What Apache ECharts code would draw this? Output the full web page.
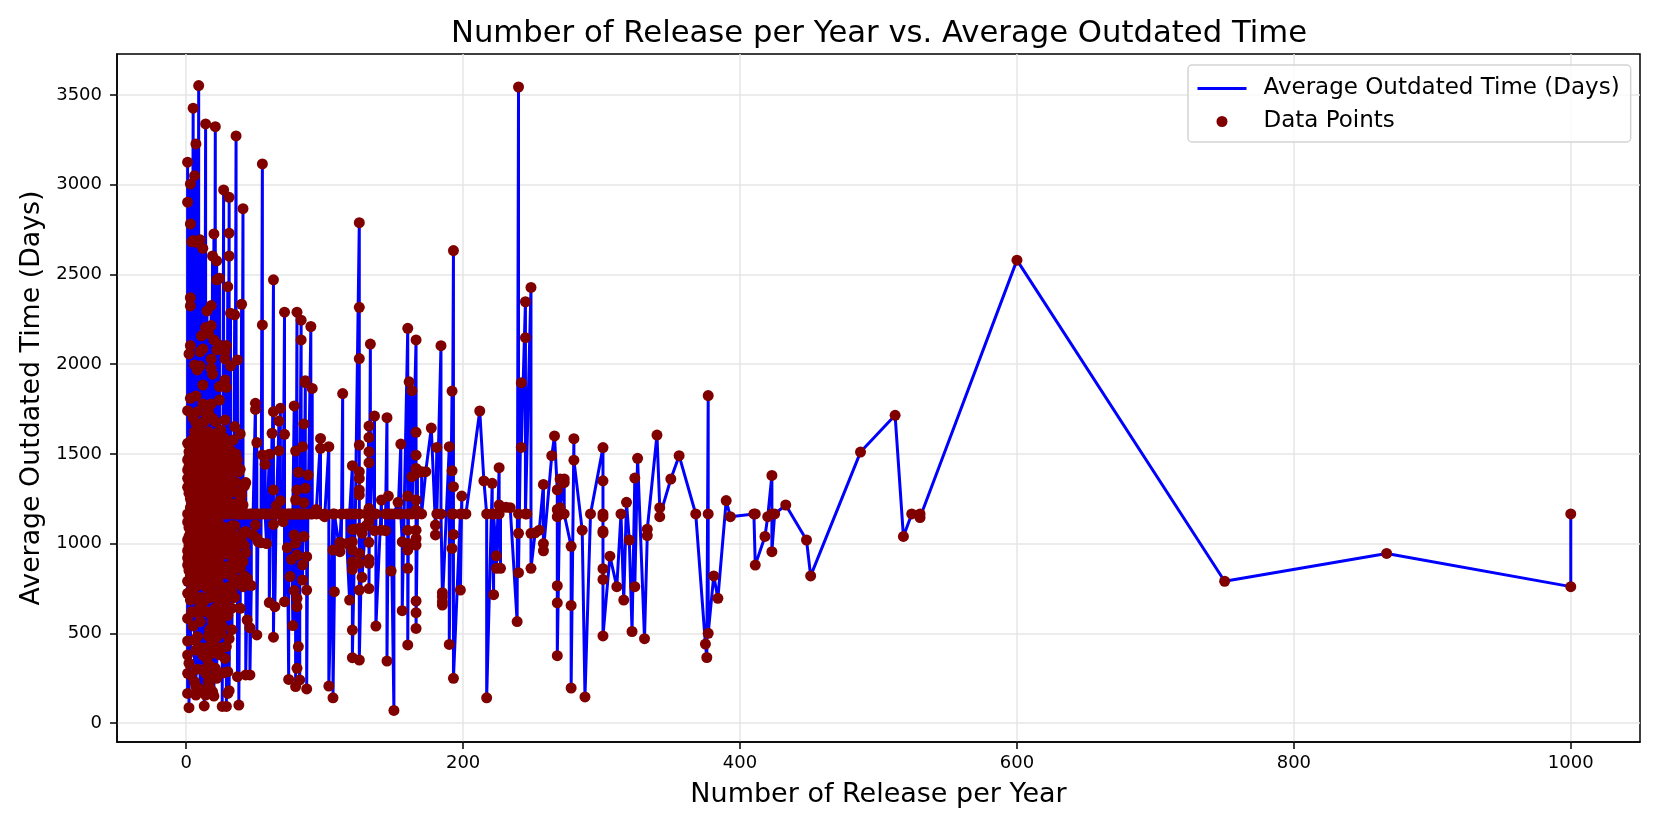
<!DOCTYPE html>
<html><head><meta charset="utf-8">
<style>html,body{margin:0;padding:0;background:#fff}#c{width:1661px;height:830px}</style>
<script src="https://cdn.jsdelivr.net/npm/echarts@6/dist/echarts.min.js"></script>
</head><body><div id="c"></div>
<script>
const chartTitle = "Number of Release per Year vs. Average Outdated Time";
const xAxisTitle = "Number of Release per Year";
const yAxisTitle = "Average Outdated Time (Days)";
const lineName = "Average Outdated Time (Days)";
const pointName = "Data Points";
const xTicks = [0,200,400,600,800,1000];
const yTicks = [0,500,1000,1500,2000,2500,3000,3500];
// Releases per year, and the outdated-time readings seen at each of those counts
const releaseCounts = [1,2,3,4,5,6,7,8,9,10,11,12,13,14,15,16,17,18,19,20,21,22,23,24,25,26,27,28,29,30,31,32,33,34,35,36,37,38,39,40,41,42,43,44,46,47,48,50,51,52,54,55,57,58,60,62,63,64,65,67,68,70,71,73,74,75,76,77,78,79,80,81,82,83,84,85,86,87,88,90,91,94,97,100,103,106,107,111,112,113,116,118,120,122,125,127,130,132,133,136,137,141,144,145,146,148,150,153,155,156,160,161,163,166,167,170,173,177,180,181,184,185,190,192,193,198,199,202,212,215,217,221,222,224,226,227,231,234,239,240,242,245,246,249,252,255,258,264,266,268,270,273,278,280,286,288,292,301,306,311,314,316,318,320,322,324,326,331,333,340,342,350,356,368,375,376,377,381,384,390,393,410,411,418,420,423,425,433,448,451,487,512,518,524,530,600,750,867,1000];
const outdatedByCount = [
[3126,2903,1741,1559,1466,1410,1364,1314,1165,1120,1020,960,920,880,790,723,583,457,379,277,165],
[2057,1513,1480,1430,1350,1280,1165,1090,1040,990,940,900,850,790,333,85],
[3005,2782,2371,2325,2104,1810,1447,1400,1340,1250,1200,1165,1130,1060,1000,950,870,820,686,268],
[2682,1578,1490,1390,1300,1230,1165,1100,1030,960,910,860,800,740,620],
[3427,2690,1700,1520,1420,1330,1260,1165,1080,1000,930,870,780,540],
[3051,1996,1624,1450,1370,1280,1190,1120,1040,960,890,820,710,460,230],
[3228,2680,1823,1674,1500,1400,1300,1165,1080,990,920,850,760,407,203,156],
[1968,1735,1560,1460,1350,1230,1130,1050,970,900,830,690,481,300],
[3553,1640,1470,1340,1220,1165,1100,1010,930,860,610],
[2693,2070,1990,1520,1420,1310,1210,1120,1040,950,880,800,648,565,190],
[2158,1600,1480,1390,1250,1165,1060,980,900,840,700,420],
[2646,2085,1884,1778,1530,1410,1330,1240,1140,1050,960,880,780,379,180],
[1680,1450,1360,1200,1080,1000,910,850,680,300,95],
[3339,2204,1570,1470,1300,1165,1030,950,870,760,277,156],
[2297,1720,1500,1400,1280,1110,1000,900,810,620,360],
[2172,1735,1624,1481,1350,1240,1165,1060,970,880,700,485,323,231],
[1590,1440,1310,1190,1090,980,860,740,520,430,320,200],
[2327,2215,2028,1977,1778,1530,1420,1290,1165,1040,930,830,700,600,426,388,250],
[2603,1944,1698,1500,1380,1250,1100,990,880,790,565,175],
[2726,2135,1600,1450,1330,1210,1165,1050,950,850,714,600,520,440,150],
[3324,1680,1520,1390,1260,1120,1020,920,810,640,305],
[2576,2470,2080,1570,1433,1300,1165,1060,960,860,720,480,400,249],
[1620,1470,1350,1240,1120,1000,900,780,600],
[2479,2107,1875,1800,1500,1380,1260,1165,1040,930,820,680,560,380],
[1633,1382,1290,1180,1070,970,880,760,500],
[1540,1410,1300,1165,1050,950,860,740,650,540,420,92],
[2971,1590,1460,1340,1210,1090,980,870,593,280],
[2070,2029,1912,1689,1500,1370,1240,1165,1030,853,658,360],
[2104,1871,1560,1430,1300,1180,1060,950,850,426,92],
[2432,1500,1390,1271,1165,1050,940,830,700,600,286,165],
[2930,2730,2603,1433,1300,1200,1090,980,870,760,640,470,180],
[2284,1990,1520,1390,1165,1002,880,760],
[1480,1345,1220,1100,990,844,740,640,520],
[1578,1460,1290,1165,1040,930,810,700],
[2275,1652,1430,1215,1100,970,870,700],
[3272,1500,1340,1165,1040,900,780],
[2024,1466,1165,1000,880,258],
[1400,1280,1165,1030,900,100],
[1611,1414,1243,1165,1002,862,639],
[2334,1271,1165,1030,930,800],
[2867,1215,1165,1060,900,760],
[1320,1165,990,820],
[1340,1165,1067,950,268],
[806,1165,574],
[1165,531,268],
[766,1165],
[1165,1050],
[1782,1748,1165,1104],
[1563,1165,1029,491],
[1165,1010],
[1165,1005],
[3116,2219,1494,1165],
[1442,1165],
[1165,1000],
[1498,1165,671],
[1615,1165],
[2470,1735,1299,1165,1107,478],
[1165,648],
[1210,1165],
[1683,1518,1165],
[1754,1239,1165],
[1165,1122],
[2290,1609,1165,676],
[977,1165],
[243,1165],
[816,1165],
[912,1165],
[543,1165],
[1767,1165,1048,738],
[1516,1243,1165,1002,203],
[2290,1299,1165,936,695,648,305],
[1397,1165,426],
[240,1165],
[2245,2135,1165],
[1540,1165,881,797],
[1667,1228,1165,1039],
[1908,1897,1308,1165],
[927,741,190],
[1382,1165],
[2210,1165],
[1865,1165],
[1165,1190],
[1586,1531,1165],
[1165,1150],
[1540,206],
[1165,964,140],
[732,1165],
[955,1007],
[1165,1000],
[1836,1165],
[1165,1000],
[685,1165],
[1434,1165,1079,1010,964,899,856,518,364],
[1165,1080],
[2789,2317,2031,1549,1401,1363,1299,1271,1165,1085,945,890,741,351],
[1057,812],
[1165,1100],
[1655,1592,1512,1451,1196,1122,1007,912,890,749],
[2112,1165],
[1711,1165,1072],
[1165,540],
[1243,1075],
[1072,1165],
[1702,1165,345],
[1265,1165],
[847,1165],
[70,1165],
[1230,1165],
[1555,1165],
[1010,626],
[2200,1265,1165,1075,1001,964,862,435],
[1902,1165],
[1852,1373,1165],
[2135,1620,1493,1419,1391,1243,1187,1165,1075,1029,992,680,615,527],
[1165,1400],
[1400,1165],
[1401],
[1644],
[1103,1048],
[1536,1165],
[2103,1165],
[726,704,676,657],
[1540,438],
[1850,1406,1165,973],
[2633,1317,1165,1051,249],
[1165,741],
[1265,1165],
[1165],
[1739],
[1349],
[1165,140],
[1336,1165],
[715,1165],
[932,862],
[1423,1215,1165],
[862,1200],
[1202],
[1200],
[565],
[3545,1165,1057,838],
[1897,1536],
[2348,2148,1165],
[1165],
[2428,1057,862],
[1060],
[1075],
[1330,1000,960],
[1490],
[1600],
[1300,1190,1150,765,670,375],
[1360,1200],
[1360,1340,1165],
[985,655,195],
[1585,1465],
[1075],
[145],
[1165],
[1535,1350,1165,1150,1070,1060,860,800,485],
[930],
[760],
[1165],
[685],
[1230],
[1020],
[510],
[1365,760],
[1475],
[470],
[1045,1080],
[1605],
[1200,1150],
[1360],
[1490],
[1165],
[440],
[365],
[1825,1165,500],
[820],
[695],
[1240],
[1150],
[1165],
[1165,880],
[1040],
[1150],
[1380,1165,955],
[1165],
[1215],
[1020],
[820],
[1510],
[1715],
[1040],
[1165],
[1165,1145],
[2580],
[790],
[945],
[760,1165]
];
const points = [];
releaseCounts.forEach((x,i)=>{ (outdatedByCount[i]||[]).forEach(y=>points.push([x,y])); });

const chart = echarts.init(document.getElementById('c'),null,{renderer:'canvas'});
const F = "DejaVu Sans";
const gridLine = {show:true,lineStyle:{color:'#e6e6e6',width:1.5}};
chart.setOption({
  animation:false,
  backgroundColor:'#fff',
  title:{text:chartTitle,left:874,top:14,textAlign:'center',textStyle:{fontFamily:F,fontSize:30.7,fontWeight:'normal',color:'#000'}},
  grid:{left:117,right:21,top:54,bottom:88,show:true,borderColor:'#000',borderWidth:1.5,backgroundColor:'transparent'},
  legend:{orient:'vertical',left:1188,top:65,itemWidth:49,itemHeight:11,itemGap:10,padding:[12,11,9,8],
    borderColor:'#d4d4d4',borderWidth:1.5,borderRadius:4,backgroundColor:'rgba(255,255,255,0.8)',
    textStyle:{fontFamily:F,fontSize:23,color:'#000',padding:[0,0,0,12]},
    data:[{name:lineName,itemStyle:{opacity:0},lineStyle:{color:'#0000ff',width:3,opacity:1}},{name:pointName}]},
  xAxis:{type:'value',min:-50,max:1050,name:xAxisTitle,nameLocation:'middle',nameGap:39,
    nameTextStyle:{fontFamily:F,fontSize:27,color:'#000'},
    axisLine:{show:true,onZero:false,lineStyle:{color:'#000',width:1.5}},
    axisTick:{show:true,length:7,lineStyle:{color:'#000',width:1.5},customValues:xTicks},
    axisLabel:{fontFamily:F,fontSize:18,color:'#000',margin:12,customValues:xTicks,formatter:v=>String(v)},
    splitLine:gridLine},
  yAxis:{type:'value',min:-106,max:3729,name:yAxisTitle,nameLocation:'middle',nameGap:71,
    nameTextStyle:{fontFamily:F,fontSize:26.8,color:'#000'},
    axisLine:{show:true,onZero:false,lineStyle:{color:'#000',width:1.5}},
    axisTick:{show:true,length:7,lineStyle:{color:'#000',width:1.5},customValues:yTicks},
    axisLabel:{fontFamily:F,fontSize:18,color:'#000',margin:15,customValues:yTicks,formatter:v=>String(v)},
    splitLine:gridLine},
  series:[
    {name:lineName,type:'line',data:points,showSymbol:false,symbol:'none',smooth:false,sampling:null,
      lineStyle:{color:'#0000ff',width:3,join:'round'},itemStyle:{color:'#0000ff'},z:2,silent:true},
    {name:pointName,type:'scatter',data:points,symbol:'circle',symbolSize:11,itemStyle:{color:'#800000',opacity:1},z:3,silent:true,large:false}
  ]
});
</script></body></html>
